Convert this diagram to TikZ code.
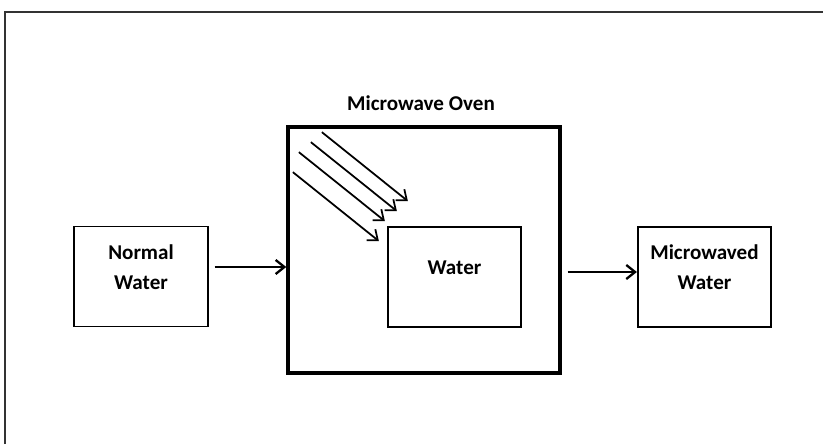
\documentclass[tikz,border=0pt]{standalone}
\usepackage{fontspec}
\setmainfont{Carlito}
\usetikzlibrary{arrows.meta,calc}
\tikzset{>={Straight Barb[length=5pt,width=8pt]},every node/.style={font=\bfseries\fontsize{12}{14}\selectfont},
 box/.style={draw,line width=1pt,minimum width=2.67cm,minimum height=2cm,inner sep=0pt},
 oven/.style={draw,line width=2pt,minimum width=5.44cm,minimum height=4.92cm,inner sep=0pt},
 flow/.style={line width=1.3pt,->},ray/.style={line width=1pt,->},frame/.style={line width=.6pt,black!80}}

\begin{document}
\begin{tikzpicture}[x=.02cm,y=-.02cm]
\useasboundingbox (0,0) rectangle (823,444);
\draw[frame] (5,444)--(5,12)--(823,12);
% boxes
\node[box] (normal) at (141,276.5) {};
\node[oven] (ov) at (424,250) {};
\node[box] (water) at (454.5,277) {};
\node[box] (mw) at (704.5,277) {};
% texts
\node[align=center] (normaltxt) at ($(normal.center)+(0,-9.5)$) {Normal\\[3pt]Water};
\node (ovtxt) at ($(ov.north)+(-3,-22)$) {Microwave Oven};
\node (watertxt) at ($(water.center)+(0,-9)$) {Water};
\node[align=center] (mwtxt) at ($(mw.center)+(0,-10)$) {Microwaved\\[3pt]Water};
% arrows
\coordinate (a1) at ($(normal.east)+(6,-9.5)$);
\draw[flow] (a1) -- (a1 -| ov.west);
\coordinate (a2) at ($(mw.west)+(0,-5)$);
\draw[flow] ($(ov.east |- a2)+(6,0)$) -- (a2);
% microwaves
\foreach \dx/\dy in {-65/-94,-76/-84,-88/-74,-94/-54}
  \draw[ray] ($(water.north west)+(\dx,\dy)$) -- ++(86,69);
\end{tikzpicture}
\end{document}
